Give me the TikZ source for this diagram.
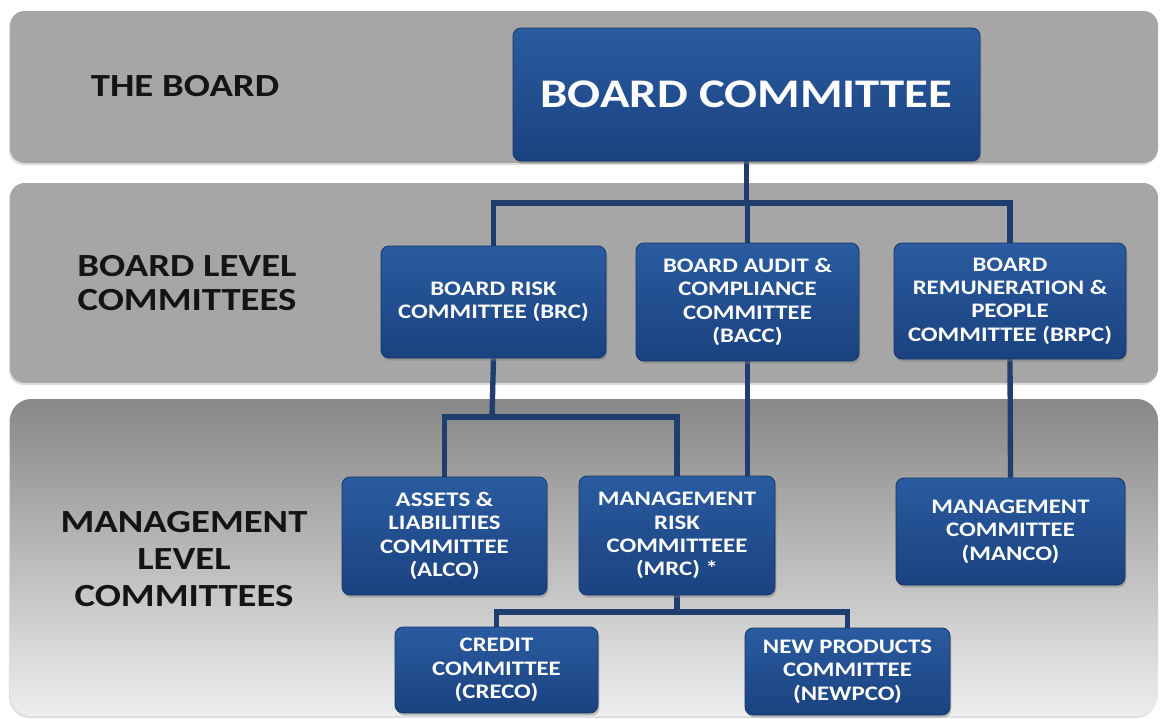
\documentclass[tikz,border=0pt]{standalone}
\usepackage{fontspec}
\setmainfont{Carlito}[FakeStretch=1.2]
\usetikzlibrary{shadows}
\definecolor{bandgray}{HTML}{A6A6A6}
\definecolor{bandtop}{HTML}{878787}
\definecolor{bandbot}{HTML}{EEEEEE}
\definecolor{boxtop}{HTML}{2A5BA0}
\definecolor{boxmid}{HTML}{1E4B8C}
\definecolor{boxbot}{HTML}{1A4280}
\definecolor{boxedge}{HTML}{143766}
\definecolor{linkblue}{HTML}{1F3E6E}
\definecolor{labelink}{HTML}{141414}
\pgfdeclarelayer{bands}
\pgfdeclarelayer{links}
\pgfsetlayers{bands,links,main}
\tikzset{
  band/.style={fill=bandgray, draw=none, rounded corners=11pt,
    drop shadow={shadow xshift=-0.8pt, shadow yshift=-1.6pt, opacity=0.25}},
  rowlabel/.style={text=labelink, align=center, inner sep=0pt,
    font=\fontsize{24.2}{#1}\selectfont\bfseries},
  orgbox/.style={rounded corners=6pt, draw=boxedge, line width=0.6pt,
    top color=boxtop, middle color=boxmid, bottom color=boxbot,
    inner sep=0pt, align=center, text=white,
    font=\fontsize{15.5}{17.5}\selectfont\bfseries,
    drop shadow={shadow xshift=1pt, shadow yshift=-2pt, opacity=0.45}},
  link/.style={draw=linkblue, line width=4pt}
}
\begin{document}
\begin{tikzpicture}[x=0.75pt, y=-0.75pt]
  \useasboundingbox (0,0) rectangle (1160,718);

  % white page and the horizontal bands for the three levels
  \begin{pgfonlayer}{bands}
    \fill[white] (0,0) rectangle (1160,718);
    \path[band] (10,11) rectangle (1158,163);
    \path[band] (10,183) rectangle (1158,383);
    \shade[top color=bandtop, bottom color=bandbot, rounded corners=16pt,
      drop shadow={shadow xshift=-0.8pt, shadow yshift=-1.6pt, opacity=0.25}]
      (10,399) rectangle (1158,716);
  \end{pgfonlayer}

  % row labels
  \node[rowlabel=27] (lab1) at (185,86) {THE BOARD};
  \node[rowlabel=25] (lab2) at (187,283) {BOARD LEVEL\\COMMITTEES};
  \node[rowlabel=27.5] (lab3) at (184,559) {MANAGEMENT\\LEVEL\\COMMITTEES};

  % committees
  \node[orgbox, minimum width=350.25pt, minimum height=99.75pt,
    font=\fontsize{30.5}{34}\selectfont\bfseries] (board) at (746.5,94.5) {BOARD COMMITTEE};
  \node[orgbox, minimum width=168.75pt, minimum height=84pt] (brc) at (493.5,302)
    {BOARD RISK\\COMMITTEE (BRC)};
  \node[orgbox, minimum width=167.25pt, minimum height=88.5pt] (bacc) at (747.5,302)
    {BOARD AUDIT \&\\COMPLIANCE\\COMMITTEE\\(BACC)};
  \node[orgbox, minimum width=174pt, minimum height=87pt] (brpc) at (1010,301)
    {BOARD\\REMUNERATION \&\\PEOPLE\\COMMITTEE (BRPC)};
  \node[orgbox, minimum width=153.75pt, minimum height=88.5pt] (alco) at (444.5,536)
    {ASSETS \&\\LIABILITIES\\COMMITTEE\\(ALCO)};
  \node[orgbox, minimum width=147pt, minimum height=89.25pt] (mrc) at (677,535.5)
    {MANAGEMENT\\RISK\\COMMITTEEE\\(MRC) *};
  \node[orgbox, minimum width=171.75pt, minimum height=80.25pt] (manco) at (1010.5,531.5)
    {MANAGEMENT\\COMMITTEE\\(MANCO)};
  \node[orgbox, minimum width=152.25pt, minimum height=64.5pt] (creco) at (496.5,670)
    {CREDIT\\COMMITTEE\\(CRECO)};
  \node[orgbox, minimum width=153.75pt, minimum height=65.25pt] (newpco) at (847.5,671.5)
    {NEW PRODUCTS\\COMMITTEE\\(NEWPCO)};

  % junction points of the connector lines
  \coordinate (j1) at (747,203);
  \coordinate (j2) at (492,417);
  \coordinate (j3) at (677,612);

  \begin{pgfonlayer}{links}
    \draw[link] (board.south) -- (board.south |- j1);
    \draw[link] (brc.north) |- (j1) -| (brpc.north);
    \draw[link] (bacc.north) -- (bacc.north |- j1);
    \draw[link] (brc.south) -- (j2);
    \draw[link] (alco.north) |- (j2) -| (mrc.north);
    \draw[link] (bacc.south) -- (bacc.south |- mrc.north);
    \draw[link] (brpc.south) -- (manco.north);
    \draw[link] (mrc.south) -- (j3);
    \draw[link] (creco.north) |- (j3) -| (newpco.north);
  \end{pgfonlayer}
\end{tikzpicture}
\end{document}
